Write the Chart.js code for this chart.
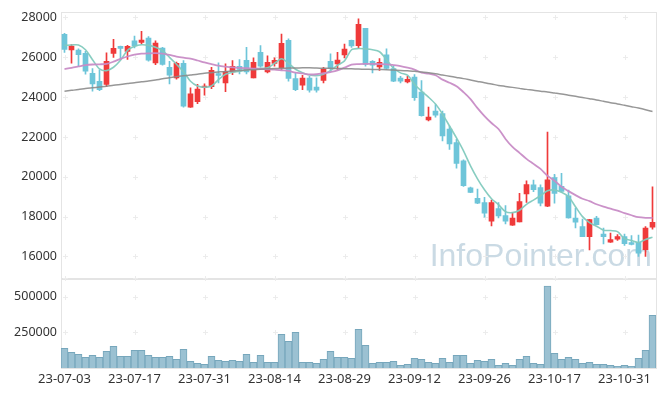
<!DOCTYPE html>
<html><head><meta charset="utf-8">
<script src="https://cdn.jsdelivr.net/npm/chart.js@4/dist/chart.umd.min.js"></script>
<style>html,body{margin:0;padding:0;background:#fff}#wrap{width:665px;height:396px}</style>
</head><body><div id="wrap"><canvas id="c" width="665" height="396"></canvas></div>
<script>
const dates = ["23-07-03","23-07-04","23-07-05","23-07-06","23-07-07","23-07-10","23-07-11","23-07-12","23-07-13","23-07-14",
"23-07-17","23-07-18","23-07-19","23-07-20","23-07-21","23-07-24","23-07-25","23-07-26","23-07-27","23-07-28",
"23-07-31","23-08-01","23-08-02","23-08-03","23-08-04","23-08-07","23-08-08","23-08-09","23-08-10","23-08-11",
"23-08-14","23-08-16","23-08-17","23-08-18","23-08-21","23-08-22","23-08-23","23-08-24","23-08-25","23-08-28",
"23-08-29","23-08-30","23-08-31","23-09-01","23-09-04","23-09-05","23-09-06","23-09-07","23-09-08","23-09-11",
"23-09-12","23-09-13","23-09-14","23-09-15","23-09-18","23-09-19","23-09-20","23-09-21","23-09-22","23-09-25",
"23-09-26","23-09-27","23-10-04","23-10-05","23-10-06","23-10-10","23-10-11","23-10-12","23-10-13","23-10-16",
"23-10-17","23-10-18","23-10-19","23-10-20","23-10-23","23-10-24","23-10-25","23-10-26","23-10-27","23-10-30",
"23-10-31","23-11-01","23-11-02","23-11-03","23-11-06"];

const openP = [27150,26370,26360,26200,25200,24800,24640,26200,26550,26300,
26830,26750,26960,25720,26460,25500,24970,25700,23500,23770,
24470,24520,25180,24720,25270,25550,25850,24970,26250,25270,
25690,25470,26850,24930,24600,24960,24500,24840,25800,25670,
26120,26850,26590,27450,25800,25520,26130,25430,24960,24770,
25010,24250,22860,23300,23170,22400,21720,20800,19450,18920,
18700,17770,18400,18050,17570,17740,19140,19600,19460,18520,
19960,19520,19050,17930,17500,17000,17930,17130,16720,16870,
17000,16700,16710,16340,17470];

const closeP = [26400,26560,26130,25300,24670,24370,25800,26450,26440,26550,
26570,26860,25850,26710,25640,25100,25700,23550,24160,24400,
24550,25350,25090,25300,25550,25390,25270,25750,25550,25750,
25850,26700,24940,24370,24960,24350,24350,25410,25440,25860,
26410,26570,27660,25640,25600,25750,25440,24800,24800,24900,
23970,23070,23000,23100,22050,21650,20670,19550,19220,18670,
18170,18710,18040,17770,17930,18750,19610,19350,18670,19850,
19170,19270,17940,17720,17000,17850,17600,17000,16850,17000,
16640,16600,16170,17430,17710];

const highP = [27200,26640,26430,26300,25430,25370,26220,26900,26560,26600,
27070,27300,27040,26830,26500,25800,25760,25830,24470,24640,
24670,25500,25720,25670,25830,25880,26500,25970,26590,26080,
25970,27170,26930,25220,25100,25050,24970,25500,26170,26250,
26670,26860,27930,27460,25830,25940,26430,25550,25050,25050,
25130,24830,23500,23630,23300,22550,21880,20850,19480,19380,
18970,18830,18710,18550,18220,19170,19800,19830,19600,22250,
20130,20180,19330,18430,17880,17870,18020,17430,17170,17100,
17130,17050,17080,17500,19500];

const lowP = [26250,25700,25550,25150,24300,24330,24530,26000,25880,25900,
26470,26670,25800,25630,25600,24670,24900,23500,23480,23670,
24100,24420,24720,24270,25130,25170,25170,24960,25500,25210,
25550,25380,24800,24330,24380,24250,24250,24720,25300,25390,
25970,26500,26440,25550,25220,25340,25400,24780,24720,24720,
23830,23050,22800,23000,21800,21380,20430,19520,19200,18650,
17970,17540,17940,17630,17560,17730,18720,19250,18540,18500,
18670,19230,17920,17430,16990,16330,17580,16630,16700,16800,
16550,16580,16000,16000,17370];

const ma5 = [26600,26620,26620,26380,25880,25420,25330,25500,25850,26350,
26550,26630,26600,26500,26330,26000,25650,25280,24800,24560,
24500,24560,24880,25150,25250,25300,25370,25410,25450,25470,
25700,25930,25700,25400,25230,25110,25080,25150,25330,25600,
25820,26380,26440,26420,26380,26280,25880,25450,25220,25100,
24650,24300,24000,23650,23150,22550,21950,21300,20550,19900,
19350,18900,18600,18250,18200,18320,18620,18830,19050,19300,
19340,19220,19000,18500,18000,17700,17520,17320,17300,17250,
16900,16800,16700,16850,16970];

const ma20 = [25410,25470,25540,25610,25640,25650,25670,25780,25920,26040,
26130,26180,26200,26210,26190,26120,26040,25980,25930,25840,
25740,25660,25580,25530,25490,25465,25450,25435,25420,25400,
25380,25350,25320,25230,25190,25140,25150,25200,25260,25340,
25480,25630,25660,25670,25670,25660,25650,25610,25560,25480,
25380,25230,25180,25100,24880,24720,24550,24250,23900,23450,
23050,22700,22400,21900,21500,21200,20900,20650,20400,20050,
19800,19500,19280,19080,18900,18780,18620,18500,18400,18300,
18180,18070,17970,17940,17940];

const ma120 = [24300,24340,24380,24430,24470,24510,24550,24600,24640,24680,
24720,24770,24810,24860,24920,24970,25030,25070,25110,25150,
25200,25230,25260,25290,25310,25335,25360,25380,25400,25420,
25435,25450,25460,25465,25470,25470,25460,25450,25445,25440,
25430,25420,25410,25400,25390,25385,25380,25360,25340,25320,
25300,25260,25220,25170,25110,25050,24990,24930,24860,24790,
24720,24660,24590,24540,24490,24440,24390,24350,24300,24260,
24210,24160,24100,24040,23980,23920,23860,23790,23720,23660,
23590,23520,23450,23370,23280];

const volume = [137600,109500,95500,74400,88500,74400,116600,151700,81500,81500,
123600,123600,88500,74400,74400,81500,60400,130600,46300,32300,
25300,81500,53400,46300,53400,46300,95500,39300,88500,39300,
39300,236000,186800,250000,39300,39300,32300,60400,116600,74400,
74400,67400,271000,158700,32300,39300,39300,46300,18300,25300,
67400,60400,39300,32300,67400,39300,88500,88500,32300,53400,
46300,60400,18300,32300,18300,60400,81500,32300,25300,575000,
102500,60400,74400,60400,32300,39300,25300,25300,18300,11200,
18300,11200,67400,123600,369400];

const priceTicks = [16000,18000,20000,22000,24000,26000,28000];
const volumeTicks = [250000,500000];
const watermark = "InfoPointer.com";

const RED = '#ef3a3a', BLUE = '#6ec5d9';
const candleColors = openP.map((o,i) => closeP[i] >= o ? RED : BLUE);

const decor = {
  id:'decor',
  beforeDatasetsDraw(chart){
    const {ctx, chartArea:a} = chart;
    const x = chart.scales.x, y = chart.scales.y, yv = chart.scales.yv;
    ctx.save();
    ctx.font = '32px "Liberation Sans", Arial, sans-serif';
    ctx.fillStyle = 'rgba(196,214,225,0.9)';
    ctx.textAlign = 'right';
    ctx.textBaseline = 'alphabetic';
    ctx.fillText(watermark, a.right - 4, y.bottom - 12);
    ctx.strokeStyle = '#e4e4e4';
    ctx.lineWidth = 1;
    ctx.strokeRect(Math.round(a.left)+0.5, Math.round(y.top)+0.5, Math.round(a.right-a.left), Math.round(y.bottom-y.top));
    ctx.strokeRect(Math.round(a.left)+0.5, Math.round(yv.top)+0.5, Math.round(a.right-a.left), Math.round(yv.bottom-yv.top));
    ctx.strokeStyle = '#ececec';
    const xs = [];
    for (let i = 0; i < dates.length; i += 10) xs.push(Math.round(x.getPixelForValue(i)));
    const ys = priceTicks.map(v => Math.round(y.getPixelForValue(v)))
      .concat(volumeTicks.map(v => Math.round(yv.getPixelForValue(v))))
      .concat([Math.round(yv.top)]);
    ctx.beginPath();
    xs.forEach(px => ys.forEach(py => {
      ctx.moveTo(px-2, py+0.5); ctx.lineTo(px+3, py+0.5);
      ctx.moveTo(px+0.5, py-2); ctx.lineTo(px+0.5, py+3);
    }));
    ctx.stroke();
    ctx.restore();
  }
};

const lineDs = (data, color, w) => ({type:'line', data, borderColor:color, borderWidth:w, pointRadius:0, tension:0.3, yAxisID:'y', order:0, fill:false});
const yFont = {family:'"Noto Sans", sans-serif', size:12.5};
const xFont = {family:'"Noto Sans", sans-serif', size:13};

new Chart(document.getElementById('c'), {
  type:'bar',
  data:{
    labels: dates,
    datasets:[
      lineDs(ma120, 'rgba(140,140,140,0.9)', 1.5),
      lineDs(ma20, 'rgba(200,140,198,0.95)', 1.8),
      lineDs(ma5, 'rgba(130,202,190,0.95)', 1.6),
      {data: openP.map((o,i)=>[o, closeP[i]]), backgroundColor:candleColors, barThickness:5, grouped:false, yAxisID:'y', order:1},
      {data: lowP.map((l,i)=>[l, highP[i]]), backgroundColor:candleColors, barThickness:1, grouped:false, yAxisID:'y', order:2},
      {data: volume, backgroundColor:'#9bc1d2', borderColor:'#77a7bc', borderWidth:1, barPercentage:1, categoryPercentage:1, grouped:false, yAxisID:'yv', order:3}
    ]
  },
  options:{
    responsive:false, animation:false, events:[],
    layout:{padding:{top:10, right:9, left:0, bottom:0}},
    plugins:{legend:{display:false}, tooltip:{enabled:false}},
    scales:{
      x:{
        grid:{display:false, drawTicks:false}, border:{display:false},
        ticks:{autoSkip:false, maxRotation:0, minRotation:0, padding:3, color:'#333', font:xFont,
          callback(v, i){ return i % 10 === 0 ? dates[i] : ''; }},
        afterFit(s){ s.height = 28; }
      },
      yv:{
        position:'left', stack:'p', stackWeight:90, min:0, max:630000,
        grid:{display:false, drawTicks:false}, border:{display:false},
        ticks:{padding:4, color:'#333', font:yFont, callback(v){ return String(v); }},
        afterBuildTicks(s){ s.ticks = volumeTicks.map(v => ({value:v})); },
        afterFit(s){ s.width = 61; }
      },
      y:{
        position:'left', stack:'p', stackWeight:268, min:14900, max:28300,
        grid:{display:false, drawTicks:false}, border:{display:false},
        ticks:{padding:4, color:'#333', font:yFont, callback(v){ return String(v); }},
        afterBuildTicks(s){ s.ticks = priceTicks.map(v => ({value:v})); },
        afterFit(s){ s.width = 61; }
      }
    }
  },
  plugins:[decor]
});
</script>
</body></html>
